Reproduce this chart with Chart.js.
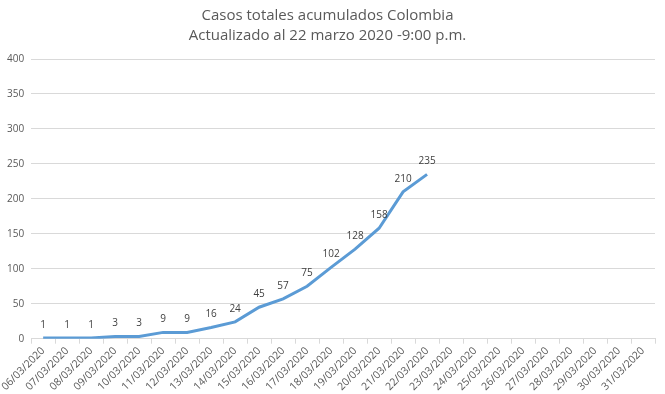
<!DOCTYPE html>
<html>
<head>
<meta charset="utf-8">
<script src="https://cdn.jsdelivr.net/npm/chart.js@4"></script>
<style>
  html, body { margin: 0; padding: 0; background: #fff; }
  #wrap { width: 665px; height: 394px; }
</style>
</head>
<body>
<div id="wrap"><canvas id="casesChart"></canvas></div>
<script>
const dates = ['06/03/2020', '07/03/2020', '08/03/2020', '09/03/2020', '10/03/2020', '11/03/2020',
    '12/03/2020', '13/03/2020', '14/03/2020', '15/03/2020', '16/03/2020', '17/03/2020',
    '18/03/2020', '19/03/2020', '20/03/2020', '21/03/2020', '22/03/2020', '23/03/2020',
    '24/03/2020', '25/03/2020', '26/03/2020', '27/03/2020', '28/03/2020', '29/03/2020',
    '30/03/2020', '31/03/2020'];
const totalCases = [1, 1, 1, 3, 3, 9, 9, 16, 24, 45, 57, 75, 102, 128, 158, 210, 235];
const titleLines = ['Casos totales acumulados Colombia', 'Actualizado al 22 marzo 2020 -9:00 p.m.'];

const fontFamily = "'Open Sans', 'Noto Sans', sans-serif";
const textColor = '#595959';

// simple value labels above each point
const pointLabels = {
    id: 'pointLabels',
    afterDatasetsDraw(chart) {
        const ctx = chart.ctx;
        const meta = chart.getDatasetMeta(0);
        ctx.save();
        ctx.font = '10px ' + fontFamily;
        ctx.fillStyle = '#404040';
        ctx.textAlign = 'center';
        ctx.textBaseline = 'bottom';
        meta.data.forEach((pt, i) => {
            ctx.fillText(totalCases[i], pt.x, pt.y - 8);
        });
        ctx.restore();
    }
};

new Chart(document.getElementById('casesChart'), {
    type: 'line',
    data: {
        labels: dates,
        datasets: [{
            data: totalCases,
            borderColor: '#5b9bd5',
            borderWidth: 3,
            pointRadius: 0,
            tension: 0,
            fill: false
        }]
    },
    options: {
        responsive: true,
        maintainAspectRatio: false,
        animation: false,
        layout: { padding: { left: 0, right: 10, top: 2, bottom: 0 } },
        plugins: {
            legend: { display: false },
            tooltip: { enabled: false },
            title: {
                display: true,
                text: titleLines,
                color: textColor,
                font: { family: fontFamily, size: 15, weight: 'normal', lineHeight: 1.3 },
                padding: { top: 4, bottom: 14 }
            }
        },
        scales: {
            x: {
                offset: true,
                grid: {
                    offset: true,
                    drawOnChartArea: false,
                    drawTicks: true,
                    tickLength: 5,
                    color: '#d9d9d9'
                },
                border: { color: '#d9d9d9' },
                ticks: {
                    color: textColor,
                    font: { family: fontFamily, size: 10.5 },
                    minRotation: 45,
                    maxRotation: 45,
                    autoSkip: false,
                    padding: 1
                }
            },
            y: {
                min: 0,
                max: 400,
                ticks: {
                    stepSize: 50,
                    color: textColor,
                    font: { family: fontFamily, size: 10 },
                    padding: 7
                },
                grid: { color: '#d9d9d9', drawTicks: false },
                border: { display: false }
            }
        }
    },
    plugins: [pointLabels]
});
</script>
</body>
</html>
